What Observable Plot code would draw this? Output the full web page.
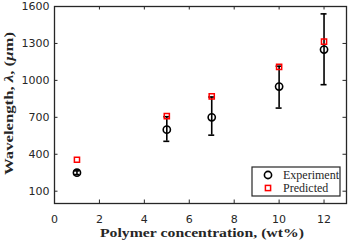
<!DOCTYPE html>
<html>
<head>
<meta charset="utf-8">
<script src="https://cdn.jsdelivr.net/npm/d3@7"></script>
<script src="https://cdn.jsdelivr.net/npm/@observablehq/plot@0.6"></script>
<style>
  html, body { margin: 0; padding: 0; background: #fff; }
  svg { display: block; }
</style>
</head>
<body>
<div id="chart"></div>
<script>
// ---- data ----
const concentration = [1, 5, 7, 10, 12];
const experiment    = [250, 600, 700, 950, 1250];
const errLow        = [235, 505, 555, 775, 965];
const errHigh       = [265, 705, 865, 1115, 1540];
const predicted     = [355, 710, 870, 1110, 1315];

const xTicks = [0, 2, 4, 6, 8, 10, 12];
const yTicks = [100, 400, 700, 1000, 1300, 1600];
const xDomain = [0, 13];
const yDomain = [0, 1600];

const seriesNames = ["Experiment", "Predicted"];
const xTitle = "Polymer concentration, (wt%)";
const yTitleParts = [["Wavelength, ", false], ["λ", true], [", (", false], ["μ", true], ["m)", false]];

const rows = concentration.map((c, i) => ({
  x: c, exp: experiment[i], lo: errLow[i], hi: errHigh[i], pred: predicted[i]
}));

const W = 351, H = 243;
const mL = 54, mR = 5, mT = 6, mB = 40;
const ink = "#262626";
const tickLenPx = 3.5;

const xUnitPerPx = (xDomain[1] - xDomain[0]) / (W - mL - mR);
const yUnitPerPx = (yDomain[1] - yDomain[0]) / (H - mT - mB);

const chart = Plot.plot({
  width: W,
  height: H,
  marginLeft: mL,
  marginRight: mR,
  marginTop: mT,
  marginBottom: mB,
  style: { fontFamily: "DejaVu Sans", fontSize: "11px", color: ink, background: "#fff" },
  x: { domain: xDomain },
  y: { domain: yDomain },
  marks: [
    // inward tick marks on all four sides
    Plot.ruleX(xTicks, { x: d => d, y1: yDomain[0], y2: yDomain[0] + tickLenPx * yUnitPerPx, stroke: ink, strokeWidth: 1 }),
    Plot.ruleX(xTicks, { x: d => d, y1: yDomain[1], y2: yDomain[1] - tickLenPx * yUnitPerPx, stroke: ink, strokeWidth: 1 }),
    Plot.ruleY(yTicks, { y: d => d, x1: xDomain[0], x2: xDomain[0] + tickLenPx * xUnitPerPx, stroke: ink, strokeWidth: 1 }),
    Plot.ruleY(yTicks, { y: d => d, x1: xDomain[1], x2: xDomain[1] - tickLenPx * xUnitPerPx, stroke: ink, strokeWidth: 1 }),
    Plot.axisX({ ticks: xTicks, tickSize: 0, tickPadding: 12, label: null, fill: ink, fontSize: 11, tickFormat: d => String(d) }),
    Plot.axisY({ ticks: yTicks, tickSize: 0, tickPadding: 5, label: null, fill: ink, fontSize: 11, tickFormat: d => String(d) }),
    // error bars
    Plot.ruleX(rows, { x: "x", y1: "lo", y2: "hi", stroke: "#000", strokeWidth: 1.6 }),
    Plot.ruleY(rows, { y: "hi", x1: "x", x2: "x", insetLeft: -3, insetRight: -3, stroke: "#000", strokeWidth: 1.6 }),
    Plot.ruleY(rows, { y: "lo", x1: "x", x2: "x", insetLeft: -3, insetRight: -3, stroke: "#000", strokeWidth: 1.6 }),
    // experiment circles
    Plot.dot(rows, { x: "x", y: "exp", r: 3.6, stroke: "#000", strokeWidth: 1.6, fill: "none" }),
    // predicted squares
    Plot.dot(rows, { x: "x", y: "pred", symbol: "square", r: 2.9, stroke: "#ff0000", strokeWidth: 1.5, fill: "none" }),
    Plot.frame({ stroke: ink, strokeWidth: 1.3 })
  ]
});

document.getElementById("chart").appendChild(chart);
const svg = d3.select(chart);

// axis titles
svg.append("text")
  .attr("x", mL + (W - mL - mR) / 2 + 2).attr("y", H - mB + 34)
  .attr("text-anchor", "middle")
  .attr("font-family", "Liberation Serif").attr("font-weight", "bold").attr("font-size", 13)
  .attr("fill", ink)
  .attr("textLength", 204).attr("lengthAdjust", "spacingAndGlyphs")
  .text(xTitle);

const yt = svg.append("text")
  .attr("transform", `translate(13,${mT + (H - mT - mB) / 2 - 1}) rotate(-90)`)
  .attr("text-anchor", "middle")
  .attr("font-family", "Liberation Serif").attr("font-weight", "bold").attr("font-size", 13)
  .attr("fill", ink)
  .attr("textLength", 143).attr("lengthAdjust", "spacingAndGlyphs");
yTitleParts.forEach(([s, it]) => {
  yt.append("tspan").attr("font-style", it ? "italic" : null).text(s);
});

// legend box (inside lower-right of frame)
const lw = 88, lh = 29;
const lx = W - mR - 6 - lw, ly = H - mB - 7 - lh;
const lg = svg.append("g").attr("aria-label", "legend");
lg.append("rect").attr("x", lx).attr("y", ly).attr("width", lw).attr("height", lh)
  .attr("fill", "#fff").attr("stroke", ink).attr("stroke-width", 1.2);
const sx = lx + 16;
lg.append("circle").attr("cx", sx).attr("cy", ly + 8).attr("r", 3.6)
  .attr("fill", "none").attr("stroke", "#000").attr("stroke-width", 1.6);
lg.append("rect").attr("x", sx - 2.6).attr("y", ly + 21 - 2.6).attr("width", 5.2).attr("height", 5.2)
  .attr("fill", "none").attr("stroke", "#ff0000").attr("stroke-width", 1.5);
seriesNames.forEach((name, i) => {
  lg.append("text").attr("x", lx + 31).attr("y", ly + 8 + i * 13).attr("dy", "0.35em")
    .attr("text-anchor", "start")
    .attr("font-family", "Liberation Serif").attr("font-size", 12).attr("fill", ink).text(name);
});
</script>
</body>
</html>
